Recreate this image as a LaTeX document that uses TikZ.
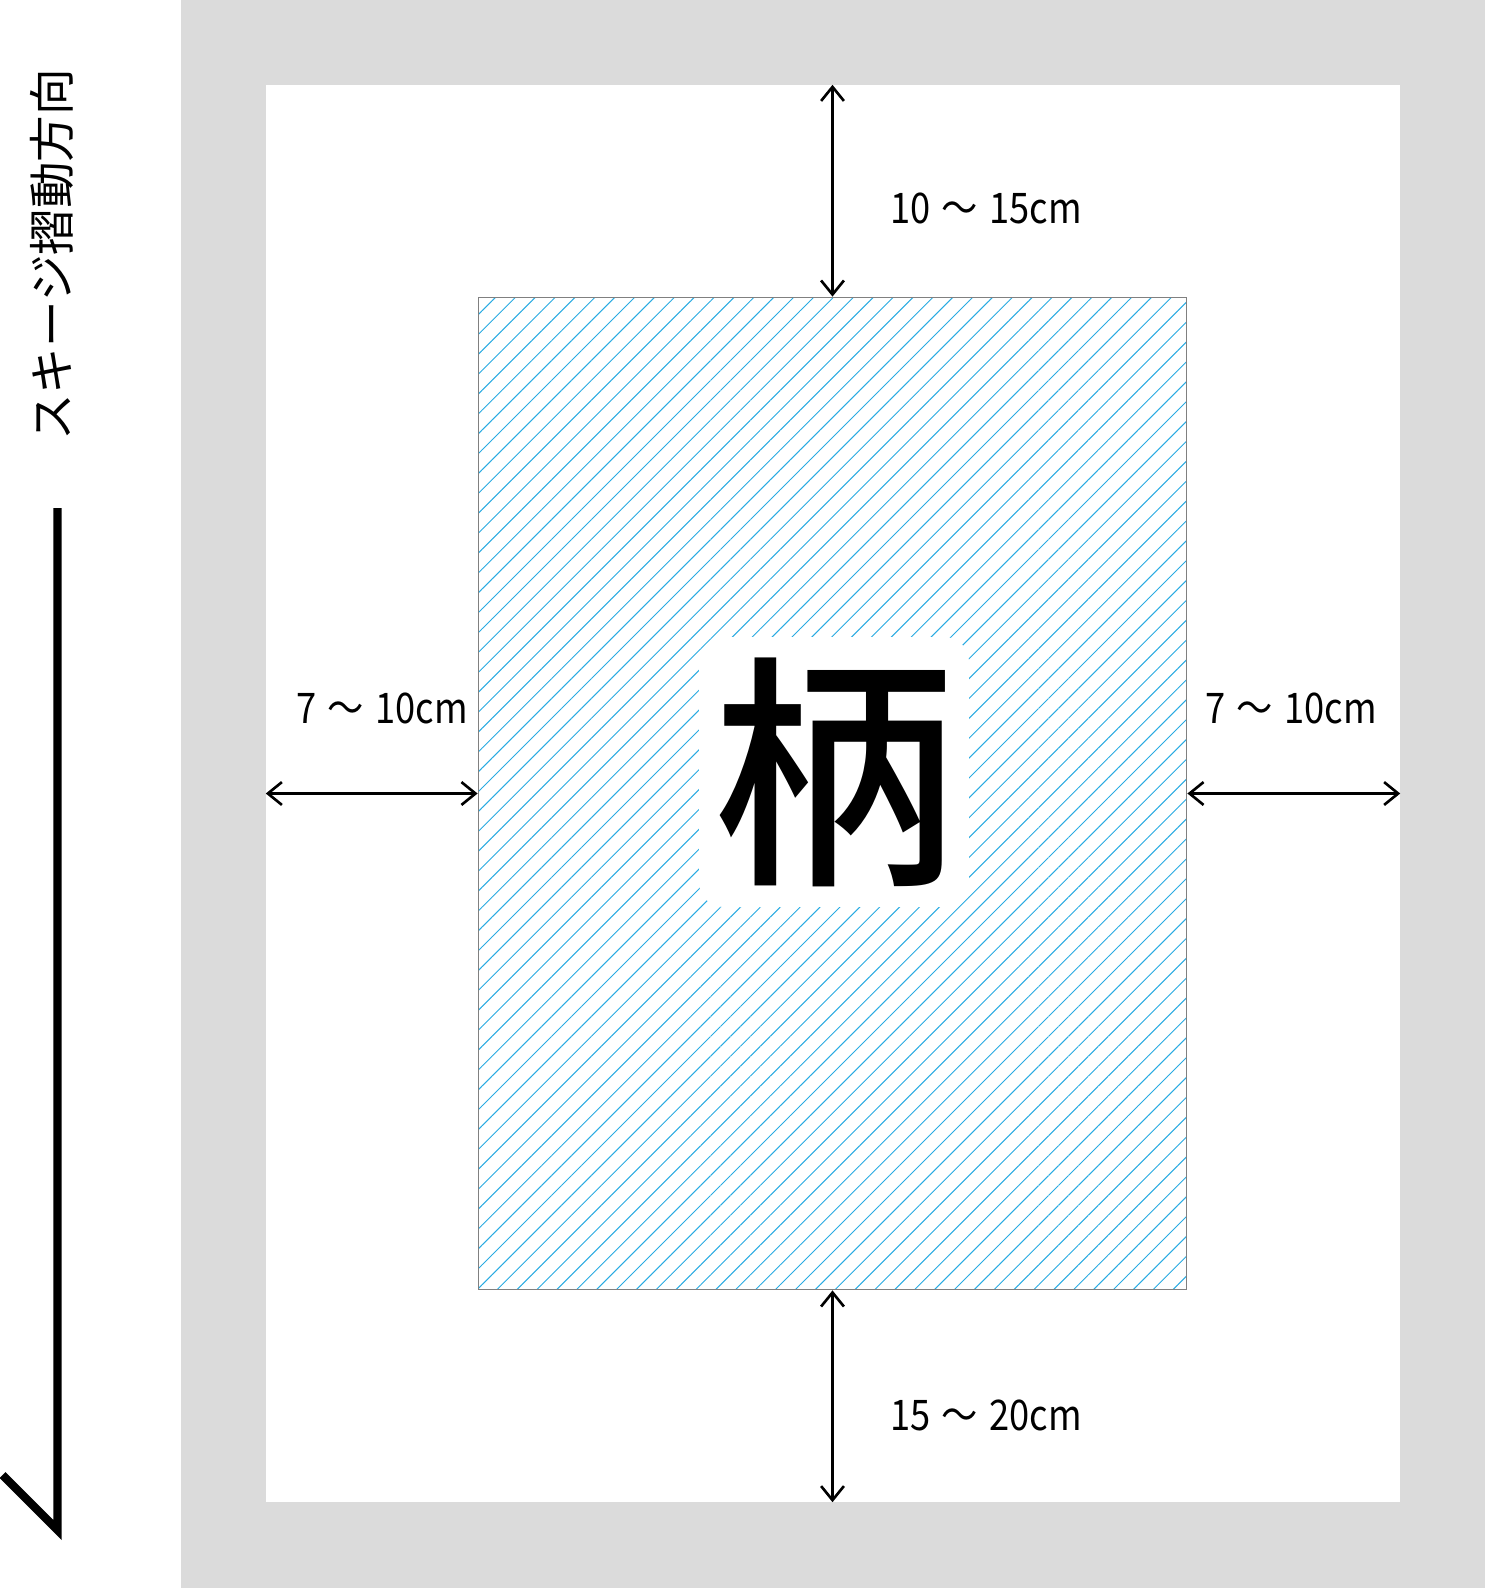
\documentclass[tikz,border=0pt]{standalone}
\usepackage{fontspec}
\setmainfont{Noto Sans CJK JP}
\newfontfamily\labelfont[FakeStretch=0.86,WordSpace=1.4]{Noto Sans CJK JP}
\newfontfamily\garafont[UprightFont=* Medium]{Noto Sans CJK JP}
\usetikzlibrary{arrows.meta,patterns.meta,positioning}
\definecolor{bordergray}{HTML}{DBDBDB}
\definecolor{hatchblue}{HTML}{29ABE2}
\definecolor{edgegray}{HTML}{808080}
\tikzset{%
	>={Straight Barb[length=8pt,width=13pt]},
	% Specifications for style of nodes:
	paper/.style = {rectangle, fill=white, inner sep=0pt},
	printarea/.style = {rectangle, draw=edgegray, line width=0.6pt, inner sep=0pt,
		pattern={Lines[angle=45,distance=8pt,line width=0.55pt]}, pattern color=hatchblue},
	motif/.style = {font=\garafont\fontsize{140}{150}\selectfont, fill=white,
		rounded corners=14pt, inner sep=0pt, minimum width=5.4cm, minimum height=5.4cm},
	dimarrow/.style = {<->, line width=1.5pt},
	dimlabel/.style = {font=\labelfont\fontsize{24}{28}\selectfont, inner sep=0pt, anchor=base west},
	dirlabel/.style = {font=\fontsize{26.5}{30}\selectfont, rotate=90, inner sep=0pt}
}

\begin{document}
\begin{tikzpicture}[x=0.02cm, y=-0.02cm]
	\useasboundingbox (0,0) rectangle (1485,1588);
	\fill[bordergray] (181,0) rectangle (1485,1588);
	% Specification of nodes (position, etc.)
	\node (paper) [paper, minimum width=22.68cm, minimum height=28.34cm] at (833,793.5) {};
	\node (print) [printarea, minimum width=14.18cm, minimum height=19.86cm] at (832.5,793.5) {};
	\node (gara)  [motif] at (834,772) {柄};
	
	\draw[dimarrow] (print.north) -- (print.north |- paper.north);
	\draw[dimarrow] (print.south) -- (print.south |- paper.south);
	\draw[dimarrow] (print.west) -- (print.west -| paper.west);
	\draw[dimarrow] (print.east) -- (print.east -| paper.east);
	
	\node (lbltop)    [dimlabel] at (890,223)  {10 ～ 15cm};
	\node (lblbottom) [dimlabel] at (890,1430) {15 ～ 20cm};
	\node (lblleft)   [dimlabel] at (296,723)  {7 ～ 10cm};
	\node (lblright)  [dimlabel] at (1205,723) {7 ～ 10cm};
	
	\node (dir) [dirlabel] at (52,255) {スキージ摺動方向};
	\draw[line width=4.8pt] (57.5,508) -- (57.5,1530) -- (2.5,1475);
\end{tikzpicture}
\end{document}
